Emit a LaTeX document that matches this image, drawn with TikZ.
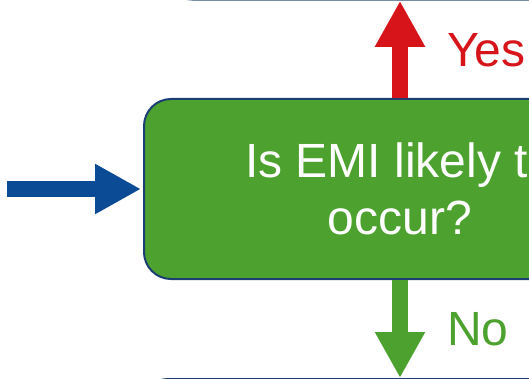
\documentclass[tikz,border=0pt]{standalone}
\usepackage{fontspec}
\setmainfont{Liberation Sans}
\usetikzlibrary{arrows.meta, positioning}
\definecolor{cGreen}{HTML}{4DA22F}
\definecolor{cNavy}{HTML}{1B3F73}
\definecolor{cRed}{HTML}{D7141A}
\definecolor{cBlue}{HTML}{0B4A94}
\tikzset{
  stepbox/.style={
    rectangle, rounded corners=27pt, draw=cNavy, line width=2pt,
    inner sep=0pt, font=\fontsize{48}{57}\selectfont, align=center
  },
  decision/.style={stepbox, fill=cGreen, text=white,
    minimum width=512pt, minimum height=180pt},
  blockarrow/.style={-{Triangle[length=46pt, width=47pt]},
    line width=16pt, draw=#1},
  blockarrow/.default=cBlue,
  answer/.style={font=\fontsize{48}{57}\selectfont, text=#1, inner sep=0pt},
}

\begin{document}
\begin{tikzpicture}[x=1pt, y=-1pt]
  \useasboundingbox (0,0) rectangle (529,379);
  \clip (0,0) rectangle (529,379);

  % neighbouring boxes (only their edges show)
  \node[stepbox, fill=white, draw=cNavy!60, anchor=south west,
        minimum width=420pt, minimum height=100pt] (prev) at (165,0.8) {};
  \node[stepbox, fill=white, anchor=north west,
        minimum width=420pt, minimum height=100pt] (next) at (140,378) {};

  % the question
  \node[decision] (dec) at (400,189) {Is EMI likely to\\occur?};

  % incoming arrow
  \coordinate (in) at (7,189);
  \draw[blockarrow] (in) -- ([xshift=-2pt]dec.west);

  % answers
  \draw[blockarrow=cRed]   (dec.north) -- (dec.north |- prev.south);
  \draw[blockarrow=cGreen] (dec.south) -- (dec.south |- next.north);
  \node[answer=cRed,   anchor=base west] (yes) at (447,67)  {Yes};
  \node[answer=cGreen, anchor=base west] (no)  at (447,345) {No};

\end{tikzpicture}
\end{document}
